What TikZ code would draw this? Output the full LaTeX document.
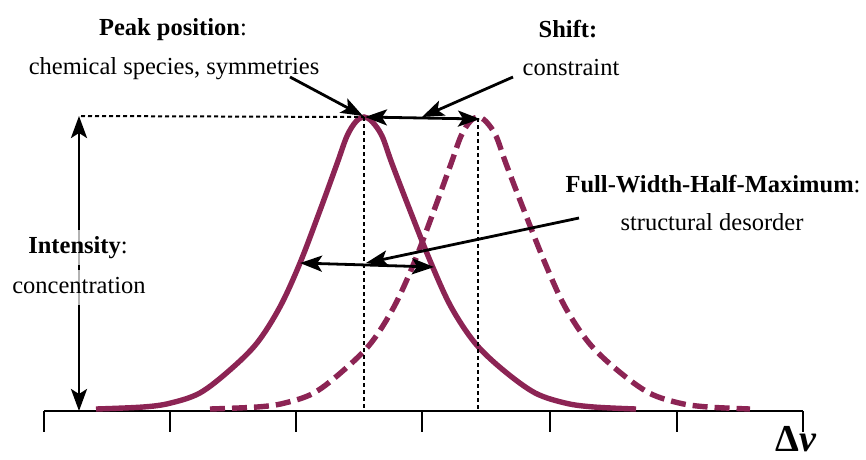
\documentclass[tikz,border=0pt]{standalone}
\usepackage{fontspec}
\setmainfont{Liberation Serif}
\usetikzlibrary{arrows.meta}
\definecolor{peakcol}{RGB}{140,36,84}
\tikzset{
  lbl/.style={font=\fontsize{24.5}{29}\selectfont, inner sep=0pt, anchor=base},
  guide/.style={black, line width=2pt, dash pattern=on 4pt off 3pt},
  dbl/.style={line width=2.8pt, {Stealth[length=22pt,width=16pt,inset=5pt]}-{Stealth[length=22pt,width=16pt,inset=5pt]}},
  ptr/.style={line width=2.8pt, -{Stealth[length=22pt,width=16pt,inset=5pt]}},
  curve/.style={peakcol, line width=5.4pt},
  profile/.pic={
    \draw[pic actions] plot[smooth, tension=0.55] coordinates {
      (-268,409) (-221,407) (-194,403.2) (-164,392.9) (-134,369.9) (-107,343)
      (-84,306.8) (-64,263) (-44,210.4) (-27,163.7) (-17,136) (-8,121.5) (0,117)
      (8,121.5) (18,136) (28,163.7) (46,210.4) (67,263) (87,306.8) (111,343)
      (139,369.9) (171,392.9) (202,403.2) (230,407) (272,409)};
  }
}
\begin{document}
\begin{tikzpicture}[x=1pt,y=-1pt]
\useasboundingbox (0,0) rectangle (866,459);

% axis
\coordinate (axL) at (44,411);
\coordinate (axR) at (803,411);
\draw[line width=2.4pt] (axL) -- (axR);
\foreach \t in {44,170,296,422,550,677,803}
  \draw[line width=2.4pt] (\t,411) -- (\t,432);

% curves
\pic[curve] at (364,0) {profile};
\pic[curve, dash pattern=on 15pt off 7pt] at (478,0) {profile};

% key points
\coordinate (pkA) at (364,117);
\coordinate (pkB) at (478,118);
\coordinate (pkAb) at (364,411);
\coordinate (pkBb) at (478,411);
\coordinate (intTop) at (79,116);
\coordinate (intBot) at (79,411);
\coordinate (hzL) at (81,116);

% guides
\draw[guide] (hzL) -- (pkA);
\draw[guide] (pkA) -- (pkAb);
\draw[guide] (pkB) -- (pkBb);

% intensity arrow
\draw[dbl] (intTop) -- (intBot);

% labels
\node[lbl] (peakT) at (173,35) {\textbf{Peak position}:};
\node[lbl] (peakS) at (174,74) {chemical species, symmetries};
\node[lbl] (shiftT) at (568,37) {\textbf{Shift:}};
\node[lbl] (shiftS) at (571,75) {constraint};
\node[lbl] (fwhmT) at (713,192) {\textbf{Full-Width-Half-Maximum}:};
\node[lbl] (fwhmS) at (712,230) {structural desorder};
\node[lbl, fill=white, fill opacity=0.7, text opacity=1, inner ysep=6pt, text height=17pt, text depth=6pt] (intT) at (78,253) {\textbf{Intensity}:};
\node[lbl, fill=white, fill opacity=0.7, text opacity=1, inner ysep=6pt, text height=17pt, text depth=6pt] (intS) at (79,293) {concentration};
\node[font=\fontsize{38}{44}\selectfont, inner sep=0pt, anchor=base west] (dnu) at (775,451) {\textbf{Δ}\textbf{\textit{ν}}};

% pointers
\coordinate (peakP) at (290,77);
\coordinate (peakTip) at (363,116);
\coordinate (shiftP) at (513,77);
\coordinate (shiftTip) at (422,117);
\coordinate (shL) at (365,117);
\coordinate (shR) at (480,119);
\coordinate (fwL) at (300,263);
\coordinate (fwR) at (434,267);
\coordinate (fwP) at (579,218);
\coordinate (fwTip) at (366,263);

\draw[dbl] (shL) -- (shR);
\draw[ptr] (peakP) -- (peakTip);
\draw[ptr] (shiftP) -- (shiftTip);
\draw[dbl] (fwL) -- (fwR);
\draw[ptr] (fwP) -- (fwTip);
\end{tikzpicture}
\end{document}
